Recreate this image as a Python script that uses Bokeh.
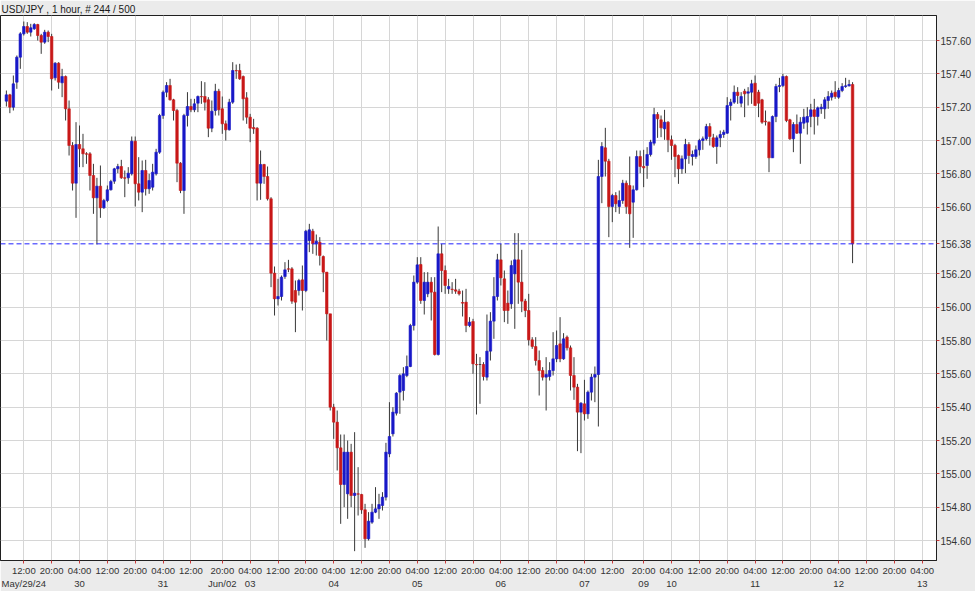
from bokeh.plotting import figure
from bokeh.models import (Range1d, FixedTicker, Span, ColumnDataSource, NumeralTickFormatter)
from bokeh.embed import file_html
from bokeh.resources import INLINE

title_text = "USD/JPY , 1 hour, # 244 / 500"

opens = [
    157.236, 157.274, 157.20, 157.35, 157.50, 157.64, 157.684, 157.65, 157.67, 157.696,
    157.63, 157.59, 157.65, 157.624, 157.376, 157.464, 157.346, 157.384, 157.19, 156.97,
    156.744, 156.976, 156.95, 156.92, 156.92, 156.79, 156.656, 156.726, 156.596, 156.64,
    156.704, 156.756, 156.83, 156.844, 156.776, 156.776, 156.80, 156.996, 156.74, 156.69,
    156.82, 156.71, 156.72, 156.80, 156.93, 157.15, 157.29, 157.33, 157.244, 157.18,
    156.864, 156.70, 157.15, 157.204, 157.184, 157.224, 157.264, 157.264, 157.244, 157.074,
    157.18, 157.296, 157.19, 157.10, 157.064, 157.23, 157.42, 157.42, 157.384, 157.256,
    157.14, 157.078, 157.074, 156.744, 156.856, 156.784, 156.65, 156.204, 156.05, 156.064,
    156.184, 156.23, 156.23, 156.10, 156.10, 156.164, 156.10, 156.40, 156.456, 156.38,
    156.39, 156.304, 156.21, 155.96, 155.40, 155.31, 155.156, 154.936, 154.88, 155.13,
    154.87, 154.88, 154.876, 154.784, 154.61, 154.71, 154.77, 154.79, 154.81, 154.86,
    155.12, 155.24, 155.364, 155.49, 155.50, 155.59, 155.644, 155.89, 156.15, 156.256,
    156.04, 156.08, 156.15, 156.09, 155.716, 156.32, 156.22, 156.11, 156.108, 156.104,
    156.096, 156.028, 156.03, 155.89, 155.914, 155.656, 155.656, 155.656, 155.58, 155.736,
    155.916, 156.064, 156.284, 156.17, 156.024, 156.02, 156.20, 156.284, 156.15, 156.036,
    155.98, 155.804, 155.764, 155.68, 155.62, 155.58, 155.584, 155.62, 155.69, 155.78,
    155.69, 155.82, 155.756, 155.59, 155.52, 155.37, 155.42, 155.36, 155.49, 155.58,
    155.596, 156.784, 156.956, 156.876, 156.604, 156.67, 156.604, 156.64, 156.744, 156.73,
    156.63, 156.704, 156.904, 156.844, 156.85, 156.916, 156.984, 157.156, 157.124, 157.07,
    157.11, 157.004, 156.97, 156.91, 156.83, 156.89, 156.976, 156.904, 156.904, 156.944,
    157.00, 157.01, 157.084, 157.016, 156.964, 157.016, 157.036, 157.044, 157.21, 157.23,
    157.29, 157.224, 157.296, 157.284, 157.29, 157.344, 157.29, 157.244, 157.116, 157.11,
    156.896, 157.144, 157.324, 157.33, 157.384, 157.124, 157.01, 157.096, 157.044, 157.104,
    157.11, 157.144, 157.184, 157.144, 157.19, 157.19, 157.24, 157.26, 157.29, 157.26,
    157.30, 157.324, 157.328, 157.336,
]

highs = [
    157.30, 157.28, 157.39, 157.51, 157.65, 157.714, 157.71, 157.70, 157.704, 157.70,
    157.64, 157.664, 157.66, 157.64, 157.47, 157.47, 157.43, 157.39, 157.24, 156.99,
    157.11, 157.09, 157.04, 156.93, 156.93, 156.86, 156.776, 156.85, 156.65, 156.73,
    156.764, 156.836, 156.86, 156.884, 156.82, 156.84, 157.024, 157.024, 156.90, 156.88,
    156.884, 156.80, 156.86, 156.95, 157.16, 157.30, 157.35, 157.37, 157.25, 157.19,
    156.87, 157.16, 157.29, 157.25, 157.25, 157.27, 157.356, 157.35, 157.26, 157.24,
    157.34, 157.31, 157.264, 157.12, 157.25, 157.47, 157.456, 157.46, 157.39, 157.29,
    157.16, 157.13, 157.08, 156.94, 156.86, 156.844, 156.66, 156.244, 156.17, 156.19,
    156.27, 156.284, 156.24, 156.16, 156.17, 156.25, 156.464, 156.50, 156.47, 156.436,
    156.42, 156.31, 156.21, 155.96, 155.42, 155.38, 155.236, 155.236, 155.20, 155.18,
    155.25, 155.04, 154.88, 154.82, 154.77, 154.82, 154.92, 154.88, 154.89, 155.186,
    155.43, 155.40, 155.49, 155.60, 155.64, 155.71, 155.90, 156.19, 156.30, 156.30,
    156.21, 156.21, 156.18, 156.18, 156.484, 156.38, 156.25, 156.17, 156.15, 156.17,
    156.11, 156.10, 156.11, 155.94, 155.93, 155.72, 155.70, 155.67, 155.956, 155.97,
    156.18, 156.32, 156.38, 156.22, 156.10, 156.28, 156.444, 156.444, 156.344, 156.05,
    156.08, 155.82, 155.82, 155.74, 155.64, 155.70, 155.67, 155.85, 155.86, 155.94,
    155.844, 155.83, 155.77, 155.70, 155.54, 155.43, 155.564, 155.50, 155.60, 155.644,
    156.884, 156.99, 157.076, 156.89, 156.68, 156.69, 156.70, 156.764, 156.76, 156.904,
    156.73, 156.94, 156.94, 156.944, 156.96, 157.004, 157.196, 157.17, 157.15, 157.184,
    157.116, 157.03, 156.98, 156.916, 156.91, 157.01, 156.99, 156.94, 156.97, 157.01,
    157.024, 157.10, 157.104, 157.04, 157.03, 157.06, 157.064, 157.26, 157.25, 157.33,
    157.32, 157.29, 157.31, 157.32, 157.364, 157.39, 157.304, 157.25, 157.18, 157.114,
    157.15, 157.34, 157.376, 157.40, 157.39, 157.13, 157.11, 157.156, 157.14, 157.19,
    157.20, 157.22, 157.25, 157.204, 157.22, 157.26, 157.296, 157.30, 157.356, 157.316,
    157.344, 157.376, 157.364, 157.35,
]

lows = [
    157.204, 157.164, 157.18, 157.31, 157.43, 157.63, 157.64, 157.624, 157.664, 157.60,
    157.52, 157.58, 157.59, 157.30, 157.36, 157.31, 157.26, 157.12, 156.91, 156.70,
    156.536, 156.84, 156.84, 156.86, 156.70, 156.56, 156.376, 156.536, 156.59, 156.63,
    156.70, 156.74, 156.804, 156.77, 156.66, 156.74, 156.79, 156.604, 156.64, 156.57,
    156.67, 156.68, 156.70, 156.79, 156.92, 157.13, 157.26, 157.24, 157.12, 156.75,
    156.684, 156.56, 157.084, 157.17, 157.17, 157.17, 157.22, 157.18, 157.02, 157.05,
    157.15, 157.15, 157.04, 157.00, 157.06, 157.22, 157.37, 157.364, 157.12, 157.10,
    156.99, 157.04, 156.64, 156.644, 156.74, 156.64, 156.12, 155.95, 156.01, 156.04,
    156.17, 156.21, 156.02, 155.85, 156.07, 155.98, 156.09, 156.33, 156.32, 156.31,
    156.25, 156.09, 155.80, 155.38, 155.21, 155.02, 154.70, 154.80, 154.73, 154.80,
    154.536, 154.75, 154.76, 154.556, 154.60, 154.70, 154.764, 154.73, 154.78, 154.84,
    155.10, 155.224, 155.35, 155.36, 155.44, 155.58, 155.64, 155.86, 156.14, 156.02,
    155.956, 156.06, 155.92, 155.71, 155.71, 156.09, 156.08, 156.08, 156.08, 156.08,
    156.07, 155.944, 155.85, 155.88, 155.60, 155.356, 155.42, 155.56, 155.56, 155.68,
    155.81, 156.04, 156.13, 155.91, 155.90, 155.99, 155.87, 156.02, 155.97, 155.94,
    155.77, 155.75, 155.65, 155.47, 155.56, 155.38, 155.56, 155.59, 155.67, 155.67,
    155.684, 155.74, 155.50, 155.444, 155.136, 155.124, 155.32, 155.33, 155.44, 155.43,
    155.284, 156.624, 156.784, 156.42, 156.51, 156.57, 156.56, 156.62, 156.56, 156.356,
    156.416, 156.70, 156.804, 156.72, 156.77, 156.904, 156.97, 157.016, 157.02, 157.004,
    156.93, 156.884, 156.78, 156.74, 156.80, 156.804, 156.86, 156.85, 156.89, 156.91,
    156.944, 157.00, 156.97, 156.956, 156.86, 156.96, 157.016, 157.04, 157.12, 157.22,
    157.22, 157.20, 157.14, 157.21, 157.22, 157.21, 157.14, 157.10, 157.09, 156.81,
    156.896, 157.11, 157.29, 157.32, 157.11, 157.004, 156.93, 157.04, 156.86, 157.07,
    157.036, 157.08, 157.036, 157.09, 157.16, 157.13, 157.19, 157.24, 157.25, 157.25,
    157.29, 157.316, 157.324, 156.264,
]

closes = [
    157.274, 157.20, 157.34, 157.50, 157.64, 157.684, 157.65, 157.676, 157.696, 157.63,
    157.59, 157.65, 157.624, 157.37, 157.464, 157.35, 157.384, 157.19, 156.97, 156.744,
    156.976, 156.95, 156.92, 156.918, 156.79, 156.656, 156.726, 156.596, 156.64, 156.704,
    156.754, 156.83, 156.844, 156.776, 156.774, 156.804, 156.996, 156.74, 156.69, 156.82,
    156.71, 156.76, 156.81, 156.93, 157.15, 157.29, 157.33, 157.244, 157.18, 156.864,
    156.70, 157.15, 157.204, 157.184, 157.22, 157.264, 157.262, 157.23, 157.074, 157.176,
    157.296, 157.184, 157.10, 157.064, 157.23, 157.42, 157.418, 157.37, 157.25, 157.14,
    157.074, 157.07, 156.744, 156.856, 156.784, 156.65, 156.204, 156.05, 156.064, 156.18,
    156.224, 156.228, 156.036, 156.03, 156.16, 156.10, 156.456, 156.464, 156.38, 156.396,
    156.31, 156.21, 155.96, 155.40, 155.31, 155.156, 154.936, 155.13, 155.13, 154.87,
    154.884, 154.878, 154.784, 154.61, 154.716, 154.77, 154.79, 154.816, 154.86, 155.13,
    155.224, 155.37, 155.484, 155.59, 155.60, 155.644, 155.89, 156.15, 156.254, 156.04,
    156.15, 156.15, 156.09, 155.716, 156.32, 156.22, 156.13, 156.124, 156.106, 156.096,
    156.08, 156.024, 155.89, 155.91, 155.66, 155.654, 155.656, 155.584, 155.736, 155.916,
    156.064, 156.284, 156.176, 155.98, 155.98, 156.25, 156.284, 156.15, 156.036, 155.98,
    155.804, 155.764, 155.68, 155.62, 155.58, 155.596, 155.62, 155.69, 155.77, 155.69,
    155.81, 155.756, 155.59, 155.52, 155.37, 155.424, 155.36, 155.49, 155.58, 155.596,
    156.784, 156.964, 156.876, 156.604, 156.67, 156.62, 156.64, 156.744, 156.604, 156.56,
    156.704, 156.904, 156.844, 156.836, 156.916, 156.99, 157.156, 157.13, 157.076, 157.11,
    157.004, 156.97, 156.904, 156.83, 156.89, 156.976, 156.91, 156.916, 156.944, 157.00,
    157.01, 157.084, 157.024, 156.964, 157.016, 157.036, 157.05, 157.21, 157.23, 157.29,
    157.27, 157.264, 157.28, 157.292, 157.34, 157.21, 157.224, 157.11, 157.112, 156.896,
    157.144, 157.324, 157.33, 157.384, 157.12, 157.01, 157.096, 157.044, 157.11, 157.14,
    157.144, 157.184, 157.144, 157.196, 157.20, 157.244, 157.264, 157.284, 157.264, 157.30,
    157.324, 157.328, 157.336, 156.38,
]

last_price = 156.38

# candle slots (hour index, weekend hours collapsed)
bar_index = list(range(1, len(closes) + 1))

time_tick_pos = [6, 14, 22, 30, 38, 46, 54, 63, 71, 79, 87, 95, 103, 111, 119, 127, 135,
                 143, 151, 159, 167, 175, 184, 192, 200, 208, 216, 224, 232, 240, 248, 256, 264]
time_tick_labels = ["12:00", "20:00", "04:00", "12:00", "20:00", "04:00", "12:00",
                    "20:00", "04:00", "12:00", "20:00", "04:00", "12:00", "20:00", "04:00",
                    "12:00", "20:00", "04:00", "12:00", "20:00", "04:00", "12:00",
                    "20:00", "04:00", "12:00", "20:00", "04:00", "12:00", "20:00", "04:00",
                    "12:00", "20:00", "04:00"]
date_tick_pos = [6, 22, 46, 63, 71, 95, 119, 143, 167, 184, 192, 216, 240, 264]
date_tick_labels = ["May/29/24", "30", "31", "Jun/02", "03", "04", "05", "06", "07",
                    "09", "10", "11", "12", "13"]
price_ticks = [154.60, 154.80, 155.00, 155.20, 155.40, 155.60, 155.80, 156.00,
               156.20, 156.40, 156.60, 156.80, 157.00, 157.20, 157.40, 157.60]

UP = "#1818c8"
DOWN = "#c81818"
FLAT = "#303030"
WICK = "#383838"
FONT = "Liberation Sans"

colors = [UP if c > o else (DOWN if c < o else FLAT) for o, c in zip(opens, closes)]
src = ColumnDataSource(dict(
    x=bar_index, o=opens, h=highs, l=lows, c=closes,
    top=[max(o, c) for o, c in zip(opens, closes)],
    bottom=[min(o, c) for o, c in zip(opens, closes)],
    color=colors,
))

p = figure(width=975, height=591, output_backend="svg", toolbar_location=None,
           x_range=Range1d(-0.69, 268.1), y_range=Range1d(154.48, 157.75),
           y_axis_location="right", x_axis_location="below",
           background_fill_color="white", border_fill_color="#ebebeb",
           outline_line_color="#202020", outline_line_width=1,
           min_border_left=0, min_border_right=39, min_border_top=15,
           min_border_bottom=31)

p.title.text = title_text
p.title.text_font = FONT
p.title.text_font_size = "10px"
p.title.text_font_style = "normal"
p.title.text_color = "#1a1a1a"
p.title.offset = 1
p.title.standoff = 1

# grids
p.xgrid.ticker = FixedTicker(ticks=time_tick_pos)
p.ygrid.ticker = FixedTicker(ticks=price_ticks)
p.xgrid.grid_line_color = "#d6d6d6"
p.ygrid.grid_line_color = "#d6d6d6"

# time axis with the date as a second line
date_of = dict(zip(date_tick_pos, date_tick_labels))
xa = p.xaxis[0]
xa.ticker = FixedTicker(ticks=time_tick_pos)
xa.major_label_overrides = {
    pos: (lab + "\n" + date_of[pos]) if pos in date_of else lab
    for pos, lab in zip(time_tick_pos, time_tick_labels)
}
xa.axis_line_color = "#202020"
xa.major_tick_line_color = "#cc3a3a"
xa.major_tick_out = 3
xa.major_tick_in = 0
xa.minor_tick_line_color = None
xa.major_label_standoff = 1
xa.major_label_text_font = FONT
xa.major_label_text_font_size = "9.5px"
xa.major_label_text_color = "#333333"
xa.major_label_text_line_height = 1.2

# price axis: the last price is shown on the scale in place of 156.40
ya = p.yaxis[0]
ya.ticker = FixedTicker(ticks=[t for t in price_ticks if t != 156.40] + [last_price])
ya.formatter = NumeralTickFormatter(format="0.00")
ya.axis_line_color = "#202020"
ya.major_tick_line_color = "#cc3a3a"
ya.major_tick_out = 3
ya.major_tick_in = 0
ya.minor_tick_line_color = None
ya.major_label_standoff = 1
ya.major_label_text_font = FONT
ya.major_label_text_font_size = "10px"
ya.major_label_text_color = "#333333"

# candles
p.segment(x0="x", y0="l", x1="x", y1="h", source=src, line_color=WICK, line_width=1)
p.vbar(x="x", width=0.72, top="top", bottom="bottom", source=src,
       fill_color="color", line_color="color", line_width=0.6)

# last price line
p.add_layout(Span(location=last_price, dimension="width", line_color="#2020ff",
                  line_dash="5 3", line_width=1))

open("out.html", "w").write(file_html(p, INLINE))
